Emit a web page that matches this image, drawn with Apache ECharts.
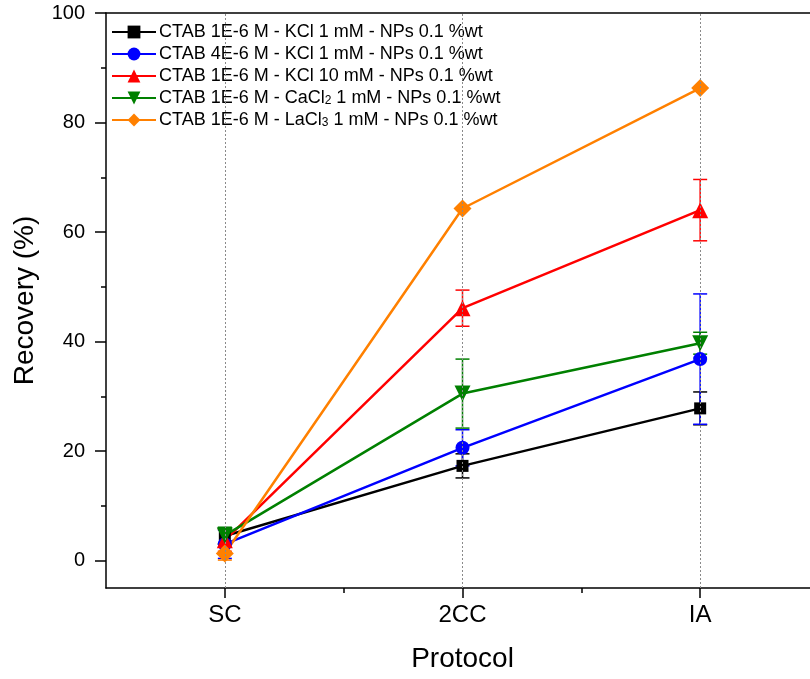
<!DOCTYPE html>
<html>
<head>
<meta charset="utf-8">
<script src="https://cdn.jsdelivr.net/npm/echarts@6/dist/echarts.min.js"></script>
<style>html,body{margin:0;padding:0;background:#fff;}#c{width:810px;height:679px;}</style>
</head>
<body>
<div id="c"></div>
<script>
const categories = ['SC', '2CC', 'IA'];
const yTicks = [0, 20, 40, 60, 80, 100];
const yMinorTicks = [10, 30, 50, 70, 90];

const seriesNames = [
  'CTAB 1E-6 M - KCl 1 mM - NPs 0.1 %wt',
  'CTAB 4E-6 M - KCl 1 mM - NPs 0.1 %wt',
  'CTAB 1E-6 M - KCl 10 mM - NPs 0.1 %wt',
  'CTAB 1E-6 M - CaCl2 1 mM - NPs 0.1 %wt',
  'CTAB 1E-6 M - LaCl3 1 mM - NPs 0.1 %wt'
];
const kcl1Values = [4.5, 17.3, 27.8];
const kcl1Errors = [1.5, 2.2, 3.0];
const ctab4Values = [3.0, 20.6, 36.8];
const ctab4Errors = [2.6, 3.3, 11.9];
const kcl10Values = [3.7, 46.1, 64.0];
const kcl10Errors = [2.0, 3.3, 5.6];
const cacl2Values = [4.6, 30.5, 39.7];
const cacl2Errors = [1.5, 6.3, 2.0];
const lacl3Values = [1.3, 64.3, 86.3];
const lacl3Errors = [1.2, 0, 0];

const colors = ['#000000', '#0000ff', '#ff0000', '#008000', '#ff8000'];
const symbols = ['rect', 'circle', 'triangle', 'triangle', 'diamond'];
const symbolSizes = [12, 14, 16, 16, 18];
const symbolRotates = [0, 0, 0, 180, 0];
const allValues = [kcl1Values, ctab4Values, kcl10Values, cacl2Values, lacl3Values];
const allErrors = [kcl1Errors, ctab4Errors, kcl10Errors, cacl2Errors, lacl3Errors];

const FONT = 'Liberation Sans';
const chart = echarts.init(document.getElementById('c'));

const catPos = categories.map((c, i) => i + 1);

const series = [];
// dotted vertical guide lines at categories
series.push({
  type: 'line', data: [], silent: true, z: 1,
  markLine: {
    silent: true, symbol: 'none', label: {show: false},
    lineStyle: {type: [2, 2], color: '#8a8a8a', width: 1},
    data: catPos.map(p => ({xAxis: p}))
  }
});
// error bars
allValues.forEach((vals, si) => {
  series.push({
    type: 'custom', z: 2, silent: true,
    data: vals.map((v, i) => [catPos[i], v, allErrors[si][i]]),
    encode: {x: 0, y: 1},
    renderItem: function (params, api) {
      const x = api.value(0), y = api.value(1), e = api.value(2);
      if (!e) return null;
      const top = api.coord([x, y + e]);
      const bot = api.coord([x, y - e]);
      const hw = 7;
      const st = {stroke: colors[si], lineWidth: 1.5};
      return {type: 'group', children: [
        {type: 'line', shape: {x1: top[0], y1: top[1], x2: bot[0], y2: bot[1]}, style: st},
        {type: 'line', shape: {x1: top[0] - hw, y1: top[1], x2: top[0] + hw, y2: top[1]}, style: st},
        {type: 'line', shape: {x1: bot[0] - hw, y1: bot[1], x2: bot[0] + hw, y2: bot[1]}, style: st}
      ]};
    }
  });
});
// lines
allValues.forEach((vals, si) => {
  series.push({
    type: 'line', name: seriesNames[si], z: 3,
    data: vals.map((v, i) => [catPos[i], v]),
    symbol: symbols[si], symbolSize: symbolSizes[si], symbolRotate: symbolRotates[si],
    showAllSymbol: true,
    lineStyle: {color: colors[si], width: 2.5},
    itemStyle: {color: colors[si], borderWidth: 0},
    emphasis: {disabled: true}
  });
});

const option = {
  animation: false,
  backgroundColor: '#ffffff',
  grid: {left: 106, top: 13, width: 713, height: 575, containLabel: false, outerBoundsMode: 'none'},
  legend: {
    data: seriesNames,
    orient: 'vertical', left: 106, top: 18,
    itemWidth: 44, itemHeight: 16, itemGap: 4,
    selectedMode: false,
    formatter: function (n) {
      return n.replace('CaCl2', 'CaCl{sub|2}').replace('LaCl3', 'LaCl{sub|3}');
    },
    textStyle: {
      fontFamily: FONT, fontSize: 18, lineHeight: 18, color: '#000', padding: [0, 0, 0, -2],
      rich: {sub: {fontFamily: FONT, fontSize: 12, color: '#000', verticalAlign: 'bottom', padding: [9, 0, 0, 0]}}
    }
  },
  xAxis: [
    {
      type: 'value', min: 0.5, max: 3.5, position: 'bottom',
      name: 'Protocol', nameLocation: 'middle', nameGap: 57,
      nameTextStyle: {fontFamily: FONT, fontSize: 28, color: '#000'},
      axisLine: {show: true, onZero: false, lineStyle: {color: '#000', width: 1.5}},
      axisTick: {show: true, inside: false, length: 10, customValues: catPos, lineStyle: {color: '#000', width: 1.5}},
      axisLabel: {show: true, margin: 15, fontFamily: FONT, fontSize: 24, color: '#000', customValues: catPos,
        formatter: v => categories[Math.round(v) - 1] || ''},
      splitLine: {show: false}
    },
    {
      type: 'value', min: 0.5, max: 3.5, position: 'bottom',
      axisLine: {show: false, onZero: false},
      axisTick: {show: true, inside: false, length: 5, customValues: [1.5, 2.5], lineStyle: {color: '#000', width: 1.5}},
      axisLabel: {show: false},
      splitLine: {show: false}
    },
    {
      type: 'value', min: 0.5, max: 3.5, position: 'top',
      axisLine: {show: true, onZero: false, lineStyle: {color: '#000', width: 1.5}},
      axisTick: {show: false}, axisLabel: {show: false}, splitLine: {show: false}
    }
  ],
  yAxis: [
    {
      type: 'value', min: -5, max: 100, position: 'left',
      name: 'Recovery (%)', nameLocation: 'middle', nameGap: 67,
      nameTextStyle: {fontFamily: FONT, fontSize: 28, color: '#000'},
      axisLine: {show: true, onZero: false, lineStyle: {color: '#000', width: 1.5}},
      axisTick: {show: true, inside: false, length: 11, customValues: yTicks, lineStyle: {color: '#000', width: 1.5}},
      axisLabel: {show: true, margin: 21, fontFamily: FONT, fontSize: 20, color: '#000', customValues: yTicks},
      splitLine: {show: false}
    },
    {
      type: 'value', min: -5, max: 100, position: 'left',
      axisLine: {show: false, onZero: false},
      axisTick: {show: true, inside: false, length: 5, customValues: yMinorTicks, lineStyle: {color: '#000', width: 1.5}},
      axisLabel: {show: false},
      splitLine: {show: false}
    }
  ],
  series: series
};
chart.setOption(option);
</script>
</body>
</html>
